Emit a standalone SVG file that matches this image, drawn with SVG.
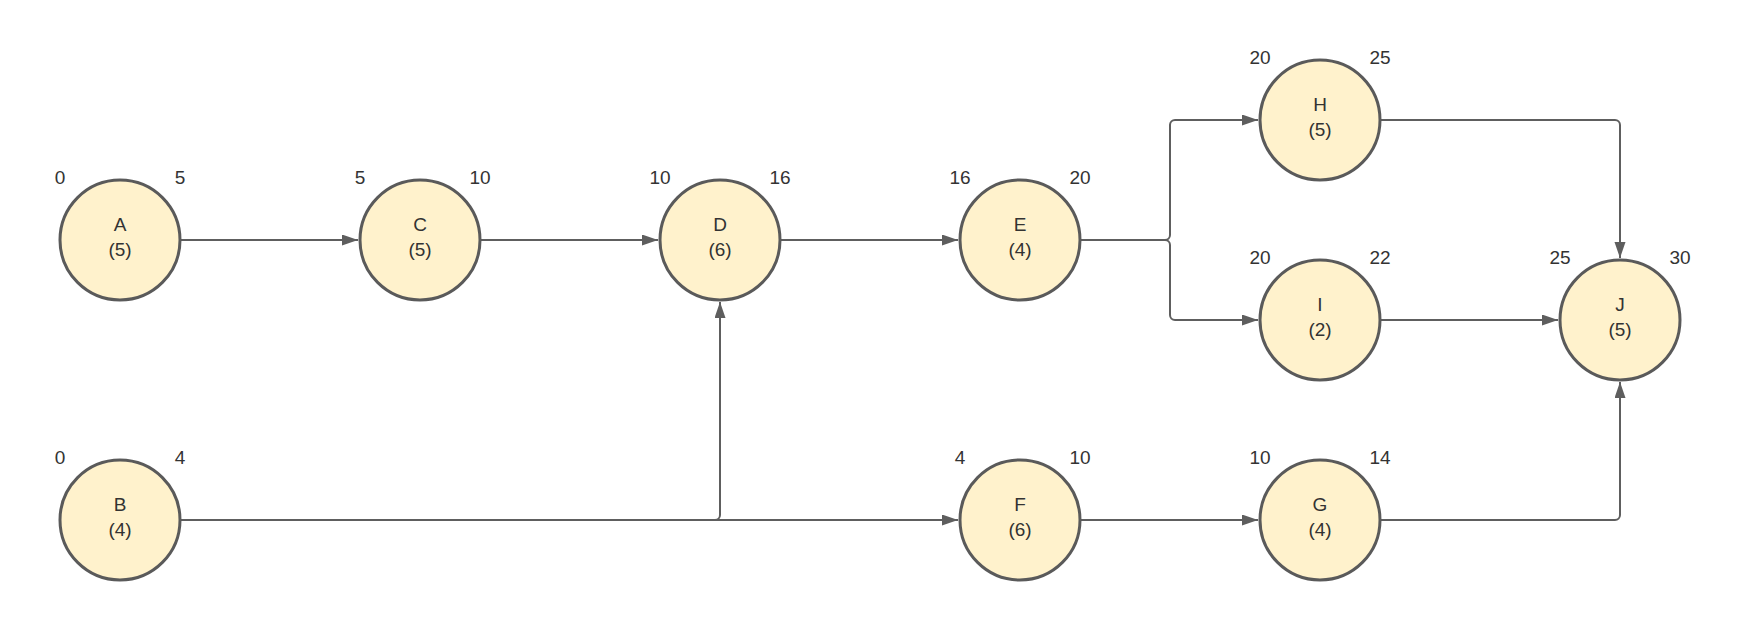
<svg xmlns="http://www.w3.org/2000/svg" width="1740" height="620" viewBox="0 0 1740 620">
<defs>
<style>
.n circle{fill:#fff2cc;stroke:#5a5a5a;stroke-width:3}
text{font-family:"Liberation Sans",Arial,sans-serif;font-size:19px;fill:#333;text-anchor:middle}
.c path{fill:none;stroke:#5e5e5e;stroke-width:2;marker-end:url(#ah)}
</style>
<marker id="ah" markerUnits="userSpaceOnUse" markerWidth="17" markerHeight="12" refX="16" refY="5.5" orient="auto">
<path d="M0,0 L16,5.5 L0,11 z" fill="#5e5e5e"/>
</marker>
</defs>
<rect width="1740" height="620" fill="#fff"/>
<g class="c" id="connectors">
<path d="M180,240 H358"/>
<path d="M480,240 H658"/>
<path d="M780,240 H958"/>
<path d="M1080,240 H1165 A5,5 0 0 0 1170,235 V125 A5,5 0 0 1 1175,120 H1258"/>
<path d="M1080,240 H1165 A5,5 0 0 1 1170,245 V315 A5,5 0 0 0 1175,320 H1258"/>
<path d="M1380,120 H1615 A5,5 0 0 1 1620,125 V258"/>
<path d="M1380,320 H1558"/>
<path d="M180,520 H715 A5,5 0 0 0 720,515 V302"/>
<path d="M180,520 H958"/>
<path d="M1080,520 H1258"/>
<path d="M1380,520 H1615 A5,5 0 0 0 1620,515 V382"/>
</g>
<g class="n" id="A"><circle cx="120" cy="240" r="60"/><text x="120" y="231">A</text><text x="120" y="256">(5)</text><text x="60" y="184">0</text><text x="180" y="184">5</text></g>
<g class="n" id="C"><circle cx="420" cy="240" r="60"/><text x="420" y="231">C</text><text x="420" y="256">(5)</text><text x="360" y="184">5</text><text x="480" y="184">10</text></g>
<g class="n" id="D"><circle cx="720" cy="240" r="60"/><text x="720" y="231">D</text><text x="720" y="256">(6)</text><text x="660" y="184">10</text><text x="780" y="184">16</text></g>
<g class="n" id="E"><circle cx="1020" cy="240" r="60"/><text x="1020" y="231">E</text><text x="1020" y="256">(4)</text><text x="960" y="184">16</text><text x="1080" y="184">20</text></g>
<g class="n" id="H"><circle cx="1320" cy="120" r="60"/><text x="1320" y="111">H</text><text x="1320" y="136">(5)</text><text x="1260" y="64">20</text><text x="1380" y="64">25</text></g>
<g class="n" id="I"><circle cx="1320" cy="320" r="60"/><text x="1320" y="311">I</text><text x="1320" y="336">(2)</text><text x="1260" y="264">20</text><text x="1380" y="264">22</text></g>
<g class="n" id="J"><circle cx="1620" cy="320" r="60"/><text x="1620" y="311">J</text><text x="1620" y="336">(5)</text><text x="1560" y="264">25</text><text x="1680" y="264">30</text></g>
<g class="n" id="B"><circle cx="120" cy="520" r="60"/><text x="120" y="511">B</text><text x="120" y="536">(4)</text><text x="60" y="464">0</text><text x="180" y="464">4</text></g>
<g class="n" id="F"><circle cx="1020" cy="520" r="60"/><text x="1020" y="511">F</text><text x="1020" y="536">(6)</text><text x="960" y="464">4</text><text x="1080" y="464">10</text></g>
<g class="n" id="G"><circle cx="1320" cy="520" r="60"/><text x="1320" y="511">G</text><text x="1320" y="536">(4)</text><text x="1260" y="464">10</text><text x="1380" y="464">14</text></g>
</svg>
